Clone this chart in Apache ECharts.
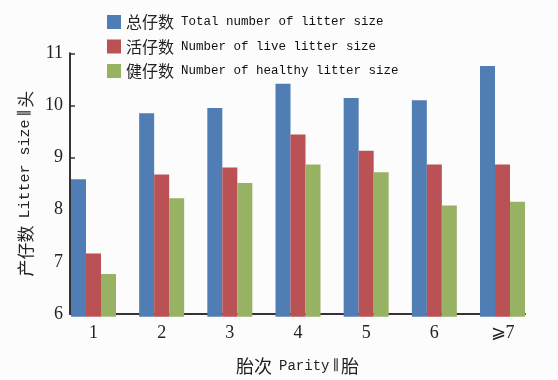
<!DOCTYPE html>
<html>
<head>
<meta charset="utf-8">
<script src="https://cdn.jsdelivr.net/npm/echarts@6/dist/echarts.min.js"></script>
<style>
  html, body { margin: 0; padding: 0; background: #fcfcfc; }
  #chart { width: 558px; height: 380px; }
</style>
</head>
<body>
<div id="chart"></div>
<script>
// Litter size by parity
const parities = ['1', '2', '3', '4', '5', '6', '⩾7'];
const seriesNames = [
  '总仔数 Total number of litter size',
  '活仔数 Number of live litter size',
  '健仔数 Number of healthy litter size'
];
const totalBorn = [8.61, 9.86, 9.96, 10.42, 10.15, 10.11, 10.76];
const bornAlive = [7.20, 8.70, 8.83, 9.46, 9.15, 8.89, 8.89];
const healthyBorn = [6.81, 8.25, 8.54, 8.89, 8.74, 8.11, 8.18];
const yMin = 6, yMax = 11, yStep = 1;
const xTitle = ['胎次', 'Parity', '胎'];
const yTitle = ['产仔数', 'Litter size', '头'];

const colors = ['#4f7db4', '#ba5155', '#97b263'];
const ink = '#222';
const serif = "'Liberation Serif', 'DejaVu Serif', serif";
const mono = "'Liberation Mono', monospace";
const cjk = "'Noto Sans CJK SC', sans-serif";

// "中文 English" -> rich text with a Chinese part and a Latin part
function bilingual(text) {
  return text.replace(/^(\S+) (.*)$/, '{c|$1}{e|$2}');
}
// axis title: 中文 English ∥ unit
function axisTitle(parts) {
  return '{c|' + parts[0] + '}{e|' + parts[1] + '}{s|∥}{u|' + parts[2] + '}';
}
function titleRich(cjkSize, latinSize) {
  return {
    c: { fontFamily: cjk, fontSize: cjkSize, color: ink, padding: [0, 7, 0, 0] },
    e: { fontFamily: mono, fontSize: latinSize, color: ink },
    s: { fontFamily: serif, fontSize: latinSize, fontStyle: 'italic', color: ink, padding: [0, 2, 0, 3] },
    u: { fontFamily: cjk, fontSize: cjkSize, color: ink }
  };
}

const chart = echarts.init(document.getElementById('chart'), null, { renderer: 'canvas' });

const gridTop = 53.3, gridBottom = 63.3;

const option = {
  backgroundColor: '#fcfcfc',
  animation: false,
  color: colors,
  legend: {
    orient: 'vertical',
    left: 102,
    top: 9,
    icon: 'rect',
    itemWidth: 14,
    itemHeight: 14,
    itemGap: 8.5,
    data: seriesNames,
    formatter: bilingual,
    textStyle: {
      color: ink,
      lineHeight: 16,
      rich: {
        c: { fontFamily: cjk, fontSize: 16, lineHeight: 16, color: ink, padding: [0, 7, 0, 0] },
        e: { fontFamily: mono, fontSize: 12.5, lineHeight: 16, color: '#111' }
      }
    }
  },
  grid: [
    // bar band area
    { left: 59.4, right: 21.4, top: gridTop, bottom: gridBottom },
    // axis frame
    { left: 70, right: 33, top: gridTop, bottom: gridBottom }
  ],
  xAxis: [
    {
      type: 'category', gridIndex: 0, data: parities,
      axisLine: { show: false }, axisTick: { show: false },
      axisLabel: { color: ink, fontFamily: serif, fontSize: 18, margin: 8 }
    },
    {
      type: 'category', gridIndex: 1, data: parities,
      axisLine: { show: true, lineStyle: { color: '#333', width: 2 } },
      axisTick: { show: false }, axisLabel: { show: false },
      name: axisTitle(xTitle),
      nameLocation: 'middle',
      nameGap: 43,
      nameTextStyle: { color: ink, rich: titleRich(18, 14) }
    }
  ],
  yAxis: [
    { type: 'value', gridIndex: 0, min: yMin, max: yMax, interval: yStep, show: false },
    {
      type: 'value', gridIndex: 1, min: yMin, max: yMax, interval: yStep,
      axisLine: { show: true, lineStyle: { color: '#333', width: 2 } },
      axisTick: { show: true, inside: true, length: 5, lineStyle: { color: '#333', width: 1.5 } },
      splitLine: { show: false },
      axisLabel: { color: ink, fontFamily: serif, fontSize: 18, margin: 7 },
      name: axisTitle(yTitle),
      nameLocation: 'middle',
      nameGap: 36,
      nameRotate: 90,
      nameTextStyle: { color: ink, rich: titleRich(17, 15) }
    }
  ],
  series: [totalBorn, bornAlive, healthyBorn].map((vals, i) => ({
    name: seriesNames[i],
    type: 'bar',
    xAxisIndex: 0,
    yAxisIndex: 0,
    data: vals,
    barGap: '0%',
    barCategoryGap: '34%',
    itemStyle: { color: colors[i] }
  }))
};

chart.setOption(option);
</script>
</body>
</html>
